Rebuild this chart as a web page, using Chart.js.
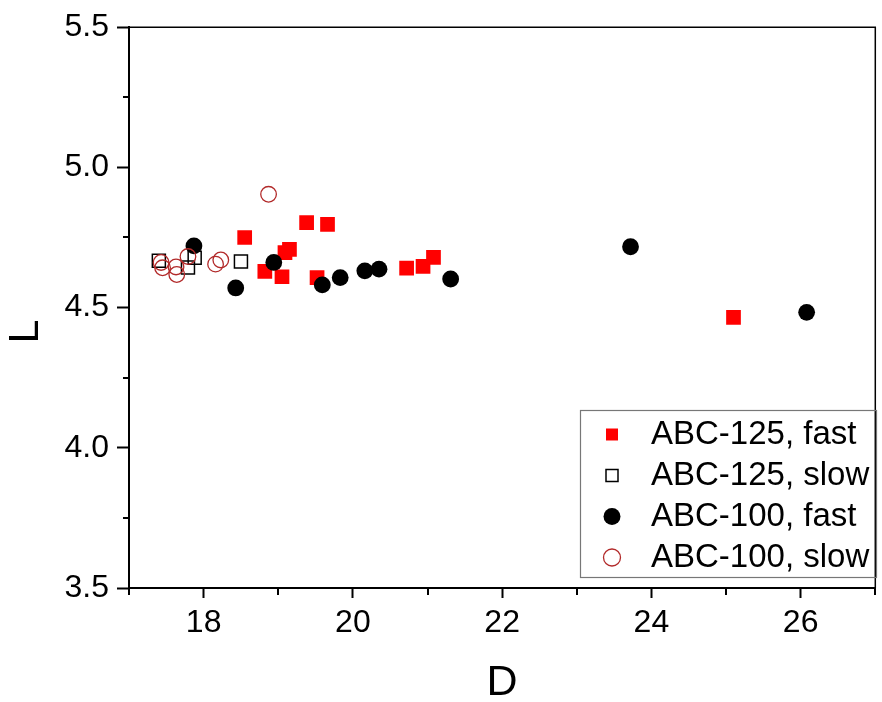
<!DOCTYPE html>
<html>
<head>
<meta charset="utf-8">
<script src="https://cdn.jsdelivr.net/npm/chart.js@4.4.1/dist/chart.umd.min.js"></script>
<style>
html, body { margin: 0; padding: 0; background: #fff; overflow: hidden; }
canvas { display: block; }
</style>
</head>
<body>
<canvas id="chart" width="886" height="702"></canvas>
<script>
// ABC-125, fast (filled red squares)
const abc125FastD = [18.55, 18.82, 19.05, 19.09, 19.15, 19.38, 19.52, 19.66, 20.72, 20.94, 21.08, 25.10];
const abc125FastL = [4.750, 4.629, 4.610, 4.696, 4.708, 4.803, 4.607, 4.797, 4.641, 4.647, 4.679, 4.465];
// ABC-125, slow (open squares)
const abc125SlowD = [17.40, 17.79, 17.88, 18.50];
const abc125SlowL = [4.667, 4.643, 4.678, 4.664];
// ABC-100, fast (filled black circles)
const abc100FastD = [17.87, 18.43, 18.94, 19.59, 19.83, 20.16, 20.35, 21.31, 23.72, 26.08];
const abc100FastL = [4.720, 4.570, 4.661, 4.581, 4.607, 4.631, 4.637, 4.602, 4.717, 4.483];
// ABC-100, slow (open red circles)
const abc100SlowD = [17.43, 17.45, 17.63, 17.64, 17.79, 18.16, 18.23, 18.87];
const abc100SlowL = [4.661, 4.642, 4.645, 4.618, 4.682, 4.655, 4.670, 4.904];

const seriesNames = ['ABC-125, fast', 'ABC-125, slow', 'ABC-100, fast', 'ABC-100, slow'];
const xTicks = [18, 20, 22, 24, 26];
const xMinorTicks = [17, 19, 21, 23, 25, 27];
const yTicks = [3.5, 4.0, 4.5, 5.0, 5.5];
const yMinorTicks = [3.75, 4.25, 4.75, 5.25];

const FONT = "'Liberation Sans', Arial, sans-serif";

function toPoints(xs, ys) {
    return xs.map((x, i) => ({ x: x, y: ys[i] }));
}

// minor ticks, top/right frame and the legend box
const frame = {
    id: 'frame',
    afterLayout(chart) {
        const lg = chart.legend;
        lg.left = 598;
        lg.top = 410;
        lg.right = 877;
        lg.bottom = 600;
        lg.width = lg.right - lg.left;
        lg.height = lg.bottom - lg.top;
    },
    afterDraw(chart) {
        const { ctx, chartArea: a, scales: { x, y } } = chart;
        ctx.save();
        ctx.strokeStyle = '#000';
        ctx.lineWidth = 2;
        ctx.beginPath();
        yMinorTicks.forEach(v => {
            const py = Math.round(y.getPixelForValue(v));
            ctx.moveTo(a.left - 6, py);
            ctx.lineTo(a.left, py);
        });
        xMinorTicks.forEach(v => {
            const px = Math.round(x.getPixelForValue(v));
            ctx.moveTo(px, a.bottom);
            ctx.lineTo(px, a.bottom + 7);
        });
        ctx.stroke();

        ctx.lineWidth = 1.5;
        ctx.beginPath();
        ctx.moveTo(a.left, a.top);
        ctx.lineTo(a.right, a.top);
        ctx.lineTo(a.right, a.bottom);
        ctx.stroke();

        ctx.lineWidth = 1.2;
        ctx.strokeStyle = '#777';
        ctx.strokeRect(580.5, 410.5, 296, 167);
        ctx.restore();
    }
};

const chartConfig = {
    type: 'scatter',
    data: {
        datasets: [{
            label: seriesNames[0],
            data: toPoints(abc125FastD, abc125FastL),
            pointStyle: 'rect',
            pointRadius: 10.4,
            pointBackgroundColor: '#ff0000',
            pointBorderColor: '#ff0000',
            pointBorderWidth: 0,
            backgroundColor: '#ff0000',
            borderColor: '#ff0000',
            order: 3
        }, {
            label: seriesNames[1],
            data: toPoints(abc125SlowD, abc125SlowL),
            pointStyle: 'rect',
            pointRadius: 9.2,
            pointBackgroundColor: 'rgba(255,255,255,0)',
            pointBorderColor: '#000',
            pointBorderWidth: 1.5,
            backgroundColor: 'rgba(255,255,255,0)',
            borderColor: '#000',
            order: 2
        }, {
            label: seriesNames[2],
            data: toPoints(abc100FastD, abc100FastL),
            pointStyle: 'circle',
            pointRadius: 8.4,
            pointBackgroundColor: '#000',
            pointBorderColor: '#000',
            pointBorderWidth: 0,
            backgroundColor: '#000',
            borderColor: '#000',
            order: 1
        }, {
            label: seriesNames[3],
            data: toPoints(abc100SlowD, abc100SlowL),
            pointStyle: 'circle',
            pointRadius: 7.8,
            pointBackgroundColor: 'rgba(255,255,255,0)',
            pointBorderColor: '#b22a2a',
            pointBorderWidth: 1.3,
            backgroundColor: 'rgba(255,255,255,0)',
            borderColor: '#b22a2a',
            order: 0
        }]
    },
    options: {
        responsive: false,
        animation: false,
        events: [],
        layout: { padding: { top: 26, right: 2, left: 0, bottom: 0 } },
        plugins: {
            tooltip: { enabled: false },
            legend: {
                position: 'chartArea',
                align: 'start',
                labels: {
                    usePointStyle: true,
                    boxWidth: 12,
                    boxHeight: 12,
                    padding: 8,
                    color: '#000',
                    font: { family: FONT, size: 33 },
                    sort: (a, b) => a.datasetIndex - b.datasetIndex,
                    generateLabels: chart => Chart.defaults.plugins.legend.labels.generateLabels(chart)
                        .map(item => Object.assign(item, { text: '\u2002' + item.text }))
                }
            }
        },
        scales: {
            x: {
                type: 'linear',
                min: 17,
                max: 27,
                afterBuildTicks: s => { s.ticks = xTicks.map(v => ({ value: v })); },
                afterFit: s => { s.height = 114; },
                border: { display: true, color: '#000', width: 2 },
                grid: { display: true, drawOnChartArea: false, drawTicks: true, tickLength: 10, tickWidth: 2, tickColor: '#000' },
                ticks: { color: '#000', font: { family: FONT, size: 32 }, padding: 6, maxRotation: 0, autoSkip: false,
                    callback: v => String(v) },
                title: { display: true, text: 'D', color: '#000', font: { family: FONT, size: 43, lineHeight: 0.9 }, padding: 0 }
            },
            y: {
                type: 'linear',
                min: 3.5,
                max: 5.5,
                afterBuildTicks: s => { s.ticks = yTicks.map(v => ({ value: v })); },
                afterFit: s => { s.width = 129; },
                border: { display: true, color: '#000', width: 2 },
                grid: { display: true, drawOnChartArea: false, drawTicks: true, tickLength: 12, tickWidth: 2, tickColor: '#000' },
                ticks: { color: '#000', font: { family: FONT, size: 32 }, padding: 8, autoSkip: false,
                    callback: v => v.toFixed(1) },
                // trailing spaces push the rotated L down a bit, like the original
                title: { display: true, text: 'L    ', color: '#000', font: { family: FONT, size: 43, lineHeight: 1.2 }, padding: 0 }
            }
        }
    },
    plugins: [frame]
};

const newChart = new Chart(document.getElementById('chart'), chartConfig);
</script>
</body>
</html>
